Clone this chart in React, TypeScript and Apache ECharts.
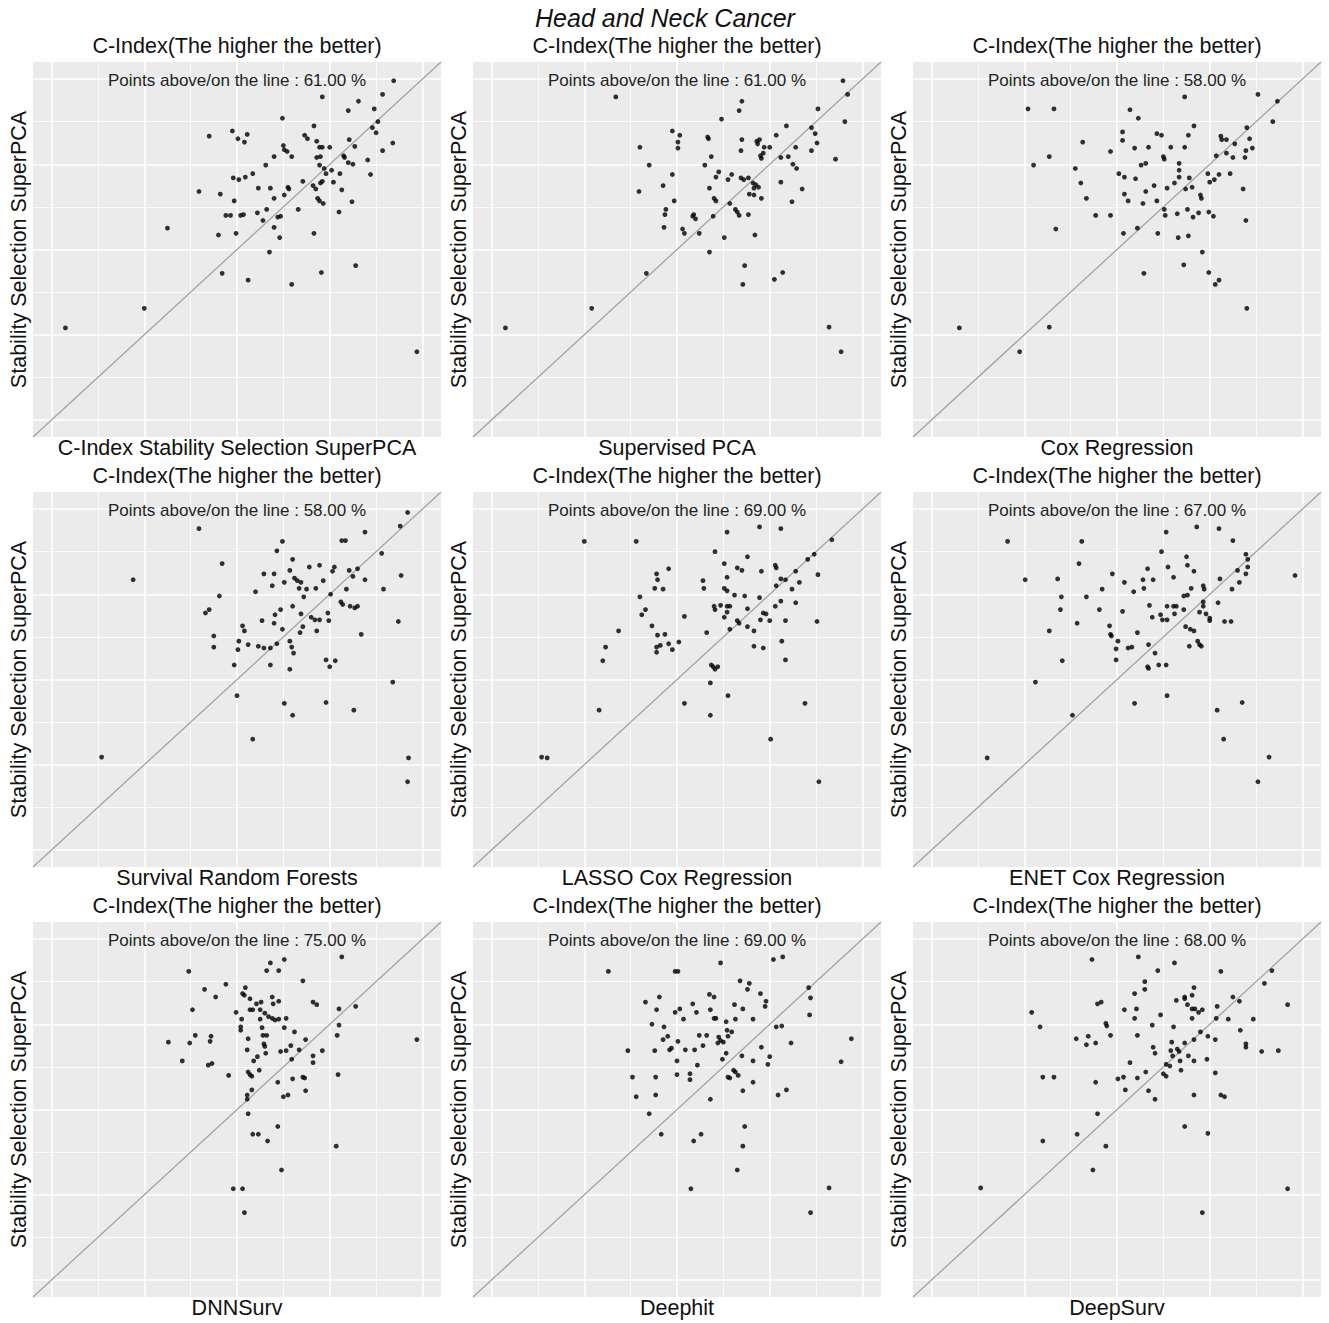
import React, { useEffect, useRef } from "react";
import * as echarts from "echarts";

// ---- axis / tick values (C-index scale, identical on both axes) ----
const AXIS_MIN = 0.28;
const AXIS_MAX = 0.72;
const majorTicks = [0.3, 0.4, 0.5, 0.6, 0.7];
const minorTicks = [0.35, 0.45, 0.55, 0.65];

const mainTitle = "Head and Neck Cancer";
const panelTitle = "C-Index(The higher the better)";
const yAxisName = "Stability Selection SuperPCA";
const methodNames = [
  "C-Index Stability Selection SuperPCA",
  "Supervised PCA",
  "Cox Regression",
  "Survival Random Forests",
  "LASSO Cox Regression",
  "ENET Cox Regression",
  "DNNSurv",
  "Deephit",
  "DeepSurv",
];
const abovePct = ["61.00", "61.00", "58.00", "58.00", "69.00", "67.00", "75.00", "69.00", "68.00"];

// ---- data: [x = comparison method C-index, y = Stability Selection SuperPCA C-index] ----
const spcaPoints = [
  [0.669, 0.698], [0.657, 0.682], [0.592, 0.679], [0.631, 0.674], [0.62, 0.663], [0.648, 0.665],
  [0.549, 0.654], [0.652, 0.65], [0.646, 0.643], [0.583, 0.645], [0.65, 0.637], [0.47, 0.633],
  [0.495, 0.639], [0.501, 0.63], [0.508, 0.626], [0.511, 0.635], [0.573, 0.634], [0.576, 0.63],
  [0.586, 0.627], [0.589, 0.62], [0.592, 0.62], [0.6, 0.62], [0.621, 0.629], [0.627, 0.621],
  [0.668, 0.625], [0.657, 0.616], [0.55, 0.622], [0.551, 0.617], [0.554, 0.615], [0.559, 0.609],
  [0.54, 0.609], [0.586, 0.608], [0.59, 0.609], [0.615, 0.61], [0.616, 0.608], [0.62, 0.602],
  [0.625, 0.6], [0.641, 0.605], [0.531, 0.599], [0.589, 0.599], [0.594, 0.595], [0.596, 0.589],
  [0.602, 0.593], [0.611, 0.589], [0.644, 0.588], [0.517, 0.589], [0.496, 0.584], [0.502, 0.582],
  [0.509, 0.585], [0.571, 0.58], [0.582, 0.575], [0.59, 0.578], [0.592, 0.58], [0.604, 0.579],
  [0.613, 0.57], [0.585, 0.571], [0.459, 0.568], [0.482, 0.565], [0.523, 0.572], [0.536, 0.572],
  [0.555, 0.573], [0.556, 0.571], [0.54, 0.56], [0.551, 0.564], [0.497, 0.557], [0.587, 0.56],
  [0.589, 0.557], [0.593, 0.554], [0.624, 0.556], [0.488, 0.54], [0.493, 0.54], [0.504, 0.54],
  [0.507, 0.541], [0.522, 0.543], [0.532, 0.547], [0.528, 0.534], [0.544, 0.538], [0.547, 0.539],
  [0.566, 0.547], [0.61, 0.544], [0.425, 0.525], [0.48, 0.517], [0.499, 0.519], [0.54, 0.526],
  [0.546, 0.514], [0.583, 0.519], [0.535, 0.497], [0.628, 0.481], [0.484, 0.472], [0.591, 0.473],
  [0.512, 0.464], [0.559, 0.459], [0.4, 0.431], [0.315, 0.408], [0.694, 0.38],
];

const supervisedPcaPoints = [
  [0.679, 0.698], [0.684, 0.682], [0.434, 0.679], [0.57, 0.674], [0.567, 0.663], [0.652, 0.665],
  [0.548, 0.653], [0.681, 0.65], [0.618, 0.645], [0.645, 0.643], [0.495, 0.639], [0.503, 0.634],
  [0.649, 0.636], [0.607, 0.634], [0.533, 0.632], [0.534, 0.63], [0.57, 0.629], [0.46, 0.62],
  [0.501, 0.626], [0.501, 0.619], [0.586, 0.627], [0.587, 0.624], [0.589, 0.629], [0.594, 0.62],
  [0.6, 0.62], [0.628, 0.62], [0.651, 0.625], [0.645, 0.616], [0.569, 0.616], [0.59, 0.61],
  [0.591, 0.607], [0.593, 0.613], [0.612, 0.608], [0.62, 0.609], [0.671, 0.606], [0.537, 0.609],
  [0.47, 0.599], [0.53, 0.599], [0.625, 0.6], [0.629, 0.595], [0.495, 0.588], [0.545, 0.591],
  [0.542, 0.585], [0.555, 0.582], [0.559, 0.588], [0.569, 0.584], [0.572, 0.582], [0.577, 0.584],
  [0.582, 0.578], [0.585, 0.576], [0.588, 0.573], [0.583, 0.572], [0.612, 0.579], [0.459, 0.568],
  [0.485, 0.575], [0.535, 0.572], [0.635, 0.571], [0.578, 0.565], [0.583, 0.564], [0.591, 0.56],
  [0.54, 0.56], [0.542, 0.557], [0.497, 0.557], [0.557, 0.554], [0.624, 0.556], [0.488, 0.547],
  [0.487, 0.541], [0.518, 0.541], [0.52, 0.536], [0.517, 0.539], [0.539, 0.539], [0.563, 0.547],
  [0.565, 0.544], [0.567, 0.54], [0.577, 0.541], [0.486, 0.526], [0.506, 0.524], [0.508, 0.519],
  [0.524, 0.519], [0.551, 0.514], [0.584, 0.517], [0.535, 0.497], [0.573, 0.481], [0.467, 0.472],
  [0.605, 0.465], [0.614, 0.473], [0.571, 0.459], [0.408, 0.431], [0.315, 0.408], [0.664, 0.409],
  [0.677, 0.38],
];

const coxPoints = [
  [0.652, 0.682], [0.673, 0.674], [0.573, 0.679], [0.404, 0.665], [0.432, 0.665], [0.514, 0.664],
  [0.523, 0.654], [0.668, 0.65], [0.583, 0.645], [0.64, 0.643], [0.506, 0.638], [0.543, 0.636],
  [0.548, 0.634], [0.577, 0.634], [0.612, 0.633], [0.613, 0.629], [0.618, 0.629], [0.643, 0.63],
  [0.506, 0.628], [0.463, 0.626], [0.627, 0.624], [0.646, 0.619], [0.493, 0.615], [0.519, 0.619],
  [0.534, 0.62], [0.558, 0.62], [0.573, 0.62], [0.639, 0.616], [0.618, 0.613], [0.607, 0.61],
  [0.55, 0.609], [0.551, 0.606], [0.625, 0.608], [0.638, 0.608], [0.427, 0.609], [0.41, 0.599],
  [0.526, 0.599], [0.531, 0.601], [0.567, 0.601], [0.567, 0.593], [0.455, 0.595], [0.502, 0.589],
  [0.508, 0.585], [0.52, 0.583], [0.567, 0.585], [0.578, 0.584], [0.598, 0.589], [0.605, 0.582],
  [0.6, 0.579], [0.61, 0.588], [0.622, 0.589], [0.461, 0.578], [0.54, 0.575], [0.562, 0.578],
  [0.554, 0.572], [0.574, 0.571], [0.581, 0.573], [0.636, 0.571], [0.531, 0.568], [0.508, 0.565],
  [0.467, 0.56], [0.512, 0.557], [0.528, 0.554], [0.543, 0.557], [0.59, 0.564], [0.591, 0.56],
  [0.551, 0.547], [0.552, 0.54], [0.565, 0.542], [0.576, 0.547], [0.582, 0.538], [0.588, 0.543],
  [0.599, 0.544], [0.604, 0.539], [0.477, 0.54], [0.493, 0.54], [0.639, 0.534], [0.434, 0.524],
  [0.507, 0.519], [0.522, 0.525], [0.544, 0.519], [0.566, 0.514], [0.577, 0.516], [0.592, 0.497],
  [0.572, 0.482], [0.529, 0.472], [0.599, 0.473], [0.61, 0.464], [0.606, 0.459], [0.64, 0.431],
  [0.33, 0.408], [0.427, 0.409], [0.395, 0.38],
];

const rsfPoints = [
  [0.684, 0.696], [0.676, 0.68], [0.459, 0.677], [0.638, 0.673], [0.549, 0.662], [0.613, 0.663],
  [0.617, 0.663], [0.543, 0.651], [0.656, 0.648], [0.484, 0.636], [0.56, 0.641], [0.388, 0.617],
  [0.529, 0.624], [0.54, 0.624], [0.557, 0.628], [0.578, 0.632], [0.589, 0.634], [0.605, 0.632],
  [0.603, 0.627], [0.621, 0.628], [0.63, 0.63], [0.677, 0.622], [0.562, 0.619], [0.565, 0.616],
  [0.569, 0.614], [0.538, 0.61], [0.551, 0.614], [0.593, 0.616], [0.638, 0.617], [0.625, 0.621],
  [0.567, 0.607], [0.575, 0.606], [0.585, 0.607], [0.52, 0.603], [0.618, 0.606], [0.658, 0.606],
  [0.481, 0.598], [0.572, 0.597], [0.601, 0.6], [0.612, 0.591], [0.614, 0.588], [0.622, 0.586],
  [0.627, 0.584], [0.63, 0.586], [0.47, 0.582], [0.466, 0.578], [0.56, 0.586], [0.547, 0.582],
  [0.569, 0.577], [0.541, 0.576], [0.527, 0.569], [0.54, 0.566], [0.58, 0.573], [0.584, 0.57],
  [0.589, 0.57], [0.598, 0.578], [0.599, 0.569], [0.674, 0.568], [0.506, 0.563], [0.508, 0.557],
  [0.549, 0.559], [0.571, 0.562], [0.568, 0.555], [0.586, 0.557], [0.475, 0.551], [0.475, 0.538],
  [0.502, 0.545], [0.501, 0.535], [0.512, 0.541], [0.523, 0.539], [0.529, 0.537], [0.536, 0.537],
  [0.543, 0.542], [0.557, 0.545], [0.559, 0.538], [0.561, 0.531], [0.634, 0.553], [0.497, 0.517],
  [0.536, 0.517], [0.557, 0.512], [0.596, 0.523], [0.6, 0.515], [0.606, 0.522], [0.668, 0.497],
  [0.5, 0.481], [0.551, 0.472], [0.596, 0.473], [0.56, 0.458], [0.626, 0.464], [0.517, 0.43],
  [0.354, 0.409], [0.685, 0.408], [0.684, 0.38],
];

const lassoPoints = [
  [0.589, 0.679], [0.612, 0.677], [0.554, 0.673], [0.4, 0.662], [0.456, 0.662], [0.667, 0.664],
  [0.541, 0.65], [0.648, 0.647], [0.576, 0.644], [0.641, 0.641], [0.551, 0.636], [0.491, 0.63],
  [0.565, 0.631], [0.57, 0.628], [0.591, 0.627], [0.606, 0.634], [0.607, 0.631], [0.628, 0.627],
  [0.478, 0.624], [0.479, 0.617], [0.652, 0.623], [0.612, 0.618], [0.617, 0.617], [0.632, 0.614],
  [0.528, 0.616], [0.529, 0.607], [0.476, 0.607], [0.485, 0.606], [0.554, 0.62], [0.551, 0.607],
  [0.554, 0.604], [0.607, 0.61], [0.624, 0.606], [0.46, 0.597], [0.562, 0.599], [0.573, 0.598],
  [0.589, 0.596], [0.612, 0.592], [0.628, 0.59], [0.606, 0.586], [0.466, 0.582], [0.54, 0.586],
  [0.541, 0.582], [0.547, 0.587], [0.554, 0.586], [0.557, 0.586], [0.554, 0.579], [0.576, 0.583],
  [0.462, 0.576], [0.508, 0.574], [0.551, 0.573], [0.565, 0.569], [0.567, 0.566], [0.593, 0.578],
  [0.596, 0.577], [0.59, 0.57], [0.6, 0.569], [0.617, 0.569], [0.651, 0.568], [0.473, 0.563],
  [0.437, 0.557], [0.532, 0.555], [0.557, 0.559], [0.576, 0.562], [0.583, 0.557], [0.479, 0.552],
  [0.487, 0.553], [0.423, 0.538], [0.478, 0.538], [0.482, 0.54], [0.478, 0.532], [0.491, 0.542],
  [0.495, 0.535], [0.502, 0.544], [0.583, 0.539], [0.593, 0.537], [0.613, 0.545], [0.42, 0.522],
  [0.537, 0.517], [0.539, 0.515], [0.541, 0.512], [0.544, 0.515], [0.617, 0.523], [0.536, 0.496],
  [0.555, 0.481], [0.416, 0.464], [0.508, 0.472], [0.638, 0.472], [0.536, 0.458], [0.601, 0.43],
  [0.354, 0.409], [0.36, 0.408], [0.653, 0.38],
];

const enetPoints = [
  [0.586, 0.679], [0.61, 0.677], [0.553, 0.673], [0.382, 0.662], [0.462, 0.662], [0.625, 0.663],
  [0.548, 0.65], [0.639, 0.647], [0.575, 0.644], [0.641, 0.641], [0.641, 0.632], [0.639, 0.624],
  [0.459, 0.636], [0.555, 0.632], [0.576, 0.634], [0.533, 0.63], [0.495, 0.624], [0.583, 0.627],
  [0.63, 0.628], [0.561, 0.62], [0.401, 0.617], [0.436, 0.618], [0.528, 0.617], [0.539, 0.617],
  [0.611, 0.618], [0.632, 0.614], [0.508, 0.614], [0.484, 0.606], [0.518, 0.603], [0.529, 0.607],
  [0.58, 0.607], [0.593, 0.61], [0.594, 0.606], [0.624, 0.606], [0.692, 0.622], [0.44, 0.597],
  [0.467, 0.597], [0.572, 0.598], [0.576, 0.599], [0.593, 0.591], [0.609, 0.59], [0.439, 0.582],
  [0.481, 0.582], [0.506, 0.58], [0.535, 0.587], [0.554, 0.586], [0.561, 0.586], [0.564, 0.586],
  [0.572, 0.582], [0.593, 0.586], [0.589, 0.579], [0.596, 0.577], [0.562, 0.577], [0.538, 0.573],
  [0.547, 0.576], [0.549, 0.57], [0.554, 0.57], [0.6, 0.572], [0.6, 0.569], [0.616, 0.568],
  [0.623, 0.568], [0.457, 0.566], [0.427, 0.557], [0.492, 0.563], [0.493, 0.553], [0.494, 0.551],
  [0.522, 0.555], [0.574, 0.562], [0.579, 0.559], [0.583, 0.557], [0.501, 0.545], [0.499, 0.536],
  [0.512, 0.537], [0.516, 0.538], [0.534, 0.541], [0.578, 0.539], [0.587, 0.545], [0.589, 0.541],
  [0.591, 0.539], [0.499, 0.523], [0.541, 0.531], [0.441, 0.522], [0.533, 0.515], [0.534, 0.513],
  [0.545, 0.517], [0.553, 0.517], [0.412, 0.497], [0.554, 0.481], [0.519, 0.472], [0.635, 0.473],
  [0.452, 0.458], [0.608, 0.464], [0.615, 0.43], [0.36, 0.408], [0.664, 0.409], [0.652, 0.38],
];

const dnnSurvPoints = [
  [0.613, 0.679], [0.551, 0.676], [0.536, 0.672], [0.532, 0.663], [0.545, 0.663], [0.448, 0.662],
  [0.571, 0.651], [0.488, 0.647], [0.465, 0.641], [0.509, 0.643], [0.477, 0.632], [0.506, 0.636],
  [0.508, 0.634], [0.514, 0.63], [0.538, 0.632], [0.545, 0.627], [0.521, 0.624], [0.526, 0.626],
  [0.539, 0.624], [0.582, 0.626], [0.586, 0.623], [0.452, 0.617], [0.514, 0.617], [0.517, 0.617],
  [0.525, 0.617], [0.499, 0.614], [0.53, 0.613], [0.534, 0.609], [0.61, 0.618], [0.628, 0.621],
  [0.505, 0.606], [0.525, 0.606], [0.538, 0.607], [0.541, 0.605], [0.545, 0.606], [0.553, 0.607],
  [0.504, 0.597], [0.504, 0.593], [0.527, 0.596], [0.551, 0.596], [0.61, 0.599], [0.562, 0.591],
  [0.455, 0.587], [0.472, 0.586], [0.528, 0.587], [0.532, 0.587], [0.608, 0.587], [0.426, 0.579],
  [0.449, 0.578], [0.471, 0.58], [0.512, 0.583], [0.529, 0.577], [0.53, 0.574], [0.574, 0.582],
  [0.511, 0.57], [0.531, 0.566], [0.547, 0.568], [0.553, 0.569], [0.558, 0.575], [0.567, 0.57],
  [0.592, 0.569], [0.522, 0.562], [0.559, 0.559], [0.582, 0.563], [0.582, 0.555], [0.441, 0.557],
  [0.469, 0.552], [0.473, 0.554], [0.518, 0.557], [0.524, 0.546], [0.512, 0.544], [0.514, 0.541],
  [0.516, 0.539], [0.491, 0.54], [0.571, 0.538], [0.573, 0.537], [0.56, 0.536], [0.544, 0.532],
  [0.609, 0.541], [0.516, 0.523], [0.574, 0.522], [0.511, 0.517], [0.511, 0.512], [0.55, 0.515],
  [0.555, 0.517], [0.512, 0.495], [0.544, 0.48], [0.517, 0.471], [0.523, 0.471], [0.533, 0.463],
  [0.607, 0.457], [0.548, 0.429], [0.496, 0.407], [0.506, 0.407], [0.508, 0.379], [0.694, 0.582],
];

const deephitPoints = [
  [0.614, 0.679], [0.604, 0.676], [0.547, 0.672], [0.426, 0.662], [0.498, 0.662], [0.501, 0.662],
  [0.568, 0.651], [0.578, 0.648], [0.576, 0.641], [0.642, 0.643], [0.644, 0.631], [0.481, 0.632],
  [0.466, 0.626], [0.535, 0.635], [0.54, 0.632], [0.59, 0.636], [0.596, 0.627], [0.595, 0.621],
  [0.562, 0.623], [0.517, 0.624], [0.478, 0.617], [0.503, 0.618], [0.498, 0.614], [0.521, 0.614],
  [0.536, 0.617], [0.571, 0.618], [0.507, 0.606], [0.54, 0.607], [0.542, 0.607], [0.563, 0.606],
  [0.582, 0.606], [0.643, 0.611], [0.553, 0.603], [0.473, 0.6], [0.486, 0.597], [0.607, 0.597],
  [0.613, 0.598], [0.554, 0.593], [0.559, 0.591], [0.49, 0.586], [0.485, 0.582], [0.524, 0.587],
  [0.532, 0.587], [0.545, 0.585], [0.547, 0.581], [0.555, 0.586], [0.501, 0.58], [0.544, 0.578],
  [0.55, 0.579], [0.688, 0.583], [0.623, 0.578], [0.447, 0.569], [0.476, 0.569], [0.492, 0.57],
  [0.494, 0.572], [0.509, 0.57], [0.519, 0.57], [0.528, 0.575], [0.591, 0.573], [0.553, 0.566],
  [0.57, 0.563], [0.6, 0.562], [0.549, 0.559], [0.5, 0.557], [0.582, 0.557], [0.598, 0.553],
  [0.677, 0.556], [0.522, 0.552], [0.561, 0.546], [0.563, 0.544], [0.555, 0.538], [0.557, 0.537],
  [0.566, 0.54], [0.452, 0.538], [0.477, 0.538], [0.5, 0.541], [0.514, 0.542], [0.514, 0.535],
  [0.582, 0.532], [0.571, 0.522], [0.618, 0.523], [0.609, 0.517], [0.456, 0.515], [0.477, 0.517],
  [0.536, 0.512], [0.47, 0.495], [0.573, 0.48], [0.483, 0.471], [0.526, 0.471], [0.518, 0.463],
  [0.571, 0.457], [0.565, 0.429], [0.515, 0.407], [0.664, 0.408], [0.644, 0.379],
];

const deepSurvPoints = [
  [0.523, 0.679], [0.473, 0.676], [0.562, 0.672], [0.544, 0.663], [0.612, 0.662], [0.667, 0.663],
  [0.53, 0.65], [0.659, 0.648], [0.53, 0.641], [0.583, 0.643], [0.519, 0.636], [0.581, 0.634],
  [0.573, 0.632], [0.573, 0.63], [0.625, 0.632], [0.632, 0.627], [0.564, 0.628], [0.479, 0.624],
  [0.483, 0.626], [0.576, 0.623], [0.684, 0.623], [0.508, 0.617], [0.521, 0.618], [0.581, 0.618],
  [0.584, 0.618], [0.588, 0.614], [0.592, 0.617], [0.608, 0.621], [0.408, 0.614], [0.547, 0.611],
  [0.519, 0.607], [0.581, 0.607], [0.607, 0.607], [0.62, 0.606], [0.647, 0.606], [0.417, 0.597],
  [0.488, 0.601], [0.489, 0.598], [0.538, 0.599], [0.561, 0.597], [0.633, 0.593], [0.59, 0.591],
  [0.456, 0.583], [0.469, 0.586], [0.493, 0.587], [0.522, 0.587], [0.583, 0.582], [0.598, 0.586],
  [0.606, 0.582], [0.467, 0.576], [0.477, 0.578], [0.559, 0.579], [0.573, 0.578], [0.639, 0.577],
  [0.639, 0.573], [0.656, 0.568], [0.674, 0.569], [0.539, 0.573], [0.541, 0.566], [0.558, 0.569],
  [0.565, 0.571], [0.567, 0.568], [0.56, 0.563], [0.577, 0.563], [0.568, 0.557], [0.583, 0.557],
  [0.597, 0.559], [0.514, 0.555], [0.553, 0.553], [0.557, 0.551], [0.569, 0.546], [0.531, 0.544],
  [0.55, 0.542], [0.553, 0.539], [0.606, 0.543], [0.42, 0.538], [0.432, 0.538], [0.501, 0.536],
  [0.507, 0.538], [0.522, 0.537], [0.477, 0.532], [0.509, 0.523], [0.534, 0.522], [0.583, 0.517],
  [0.612, 0.517], [0.616, 0.515], [0.541, 0.512], [0.479, 0.495], [0.573, 0.48], [0.457, 0.471],
  [0.598, 0.472], [0.42, 0.463], [0.488, 0.457], [0.474, 0.429], [0.353, 0.408], [0.684, 0.407],
  [0.592, 0.379],
];

const panelData = [
  spcaPoints, supervisedPcaPoints, coxPoints,
  rsfPoints, lassoPoints, enetPoints,
  dnnSurvPoints, deephitPoints, deepSurvPoints,
];

// ---- layout (px) ----
const COL_LEFT = [33, 473, 913];
const ROW_TOP = [62, 492, 922];
const PANEL_W = 408;
const PANEL_H = 375;
const FONT = "'Liberation Sans', Arial, Helvetica, sans-serif";

export default function App() {
  const ref = useRef<HTMLDivElement>(null);

  useEffect(() => {
    if (!ref.current) return;
    const chart = echarts.init(ref.current, undefined, { renderer: "svg" });

    const grids: any[] = [];
    const xAxes: any[] = [];
    const yAxes: any[] = [];
    const series: any[] = [];
    const graphics: any[] = [];

    graphics.push({
      type: "text",
      x: 665,
      y: 18,
      style: {
        text: mainTitle,
        font: `italic 25px ${FONT}`,
        fill: "#111",
        align: "center",
        verticalAlign: "middle",
        textAlign: "center",
        textVerticalAlign: "middle",
      },
    });

    panelData.forEach((pts, i) => {
      const col = i % 3;
      const row = Math.floor(i / 3);
      const left = COL_LEFT[col];
      const top = ROW_TOP[row];

      grids.push({
        left,
        top,
        width: PANEL_W,
        height: PANEL_H,
        show: true,
        backgroundColor: "#EBEBEB",
        borderWidth: 0,
      });

      const common = {
        gridIndex: i,
        type: "value",
        min: AXIS_MIN,
        max: AXIS_MAX,
        axisLine: { show: false },
        axisTick: { show: false },
        axisLabel: { show: false },
        splitLine: { show: false },
        nameLocation: "middle",
        nameTextStyle: { fontFamily: FONT, fontSize: 21.5, color: "#111" },
      };
      xAxes.push({ ...common, name: methodNames[i], nameGap: 0 });
      yAxes.push({ ...common, name: yAxisName, nameRotate: 90, nameGap: 3 });

      const gridLines = [
        ...majorTicks.map((v) => ({ xAxis: v, lineStyle: { width: 1.6 } })),
        ...majorTicks.map((v) => ({ yAxis: v, lineStyle: { width: 1.6 } })),
        ...minorTicks.map((v) => ({ xAxis: v, lineStyle: { width: 0.8 } })),
        ...minorTicks.map((v) => ({ yAxis: v, lineStyle: { width: 0.8 } })),
      ];

      series.push({
        type: "line",
        xAxisIndex: i,
        yAxisIndex: i,
        data: [
          [AXIS_MIN, AXIS_MIN],
          [AXIS_MAX, AXIS_MAX],
        ],
        symbol: "none",
        showSymbol: false,
        silent: true,
        z: 2,
        lineStyle: { color: "#A3A3A3", width: 1.3 },
      });

      series.push({
        type: "scatter",
        xAxisIndex: i,
        yAxisIndex: i,
        data: pts,
        symbol: "circle",
        symbolSize: 4.8,
        silent: true,
        z: 3,
        itemStyle: { color: "#000" },
        markLine: {
          silent: true,
          z: 1,
          symbol: ["none", "none"],
          label: { show: false },
          lineStyle: { color: "#FFFFFF", type: "solid", width: 1.6 },
          data: gridLines,
        },
      });

      graphics.push({
        type: "text",
        x: left + PANEL_W / 2,
        y: top - 16,
        style: {
          text: panelTitle,
          font: `21.5px ${FONT}`,
          fill: "#111",
          align: "center",
          verticalAlign: "middle",
          textAlign: "center",
          textVerticalAlign: "middle",
        },
      });
      graphics.push({
        type: "text",
        x: left + PANEL_W / 2,
        y: top + 18.5,
        z: 10,
        style: {
          text: `Points above/on the line : ${abovePct[i]} %`,
          font: `17px ${FONT}`,
          fill: "#222",
          align: "center",
          verticalAlign: "middle",
          textAlign: "center",
          textVerticalAlign: "middle",
        },
      });
    });

    chart.setOption({
      animation: false,
      backgroundColor: "#FFFFFF",
      grid: grids,
      xAxis: xAxes,
      yAxis: yAxes,
      series,
      graphic: graphics,
    });

    return () => chart.dispose();
  }, []);

  return (
    <div
      ref={ref}
      style={{ position: "absolute", left: 0, top: 0, width: 1329, height: 1323 }}
    />
  );
}
